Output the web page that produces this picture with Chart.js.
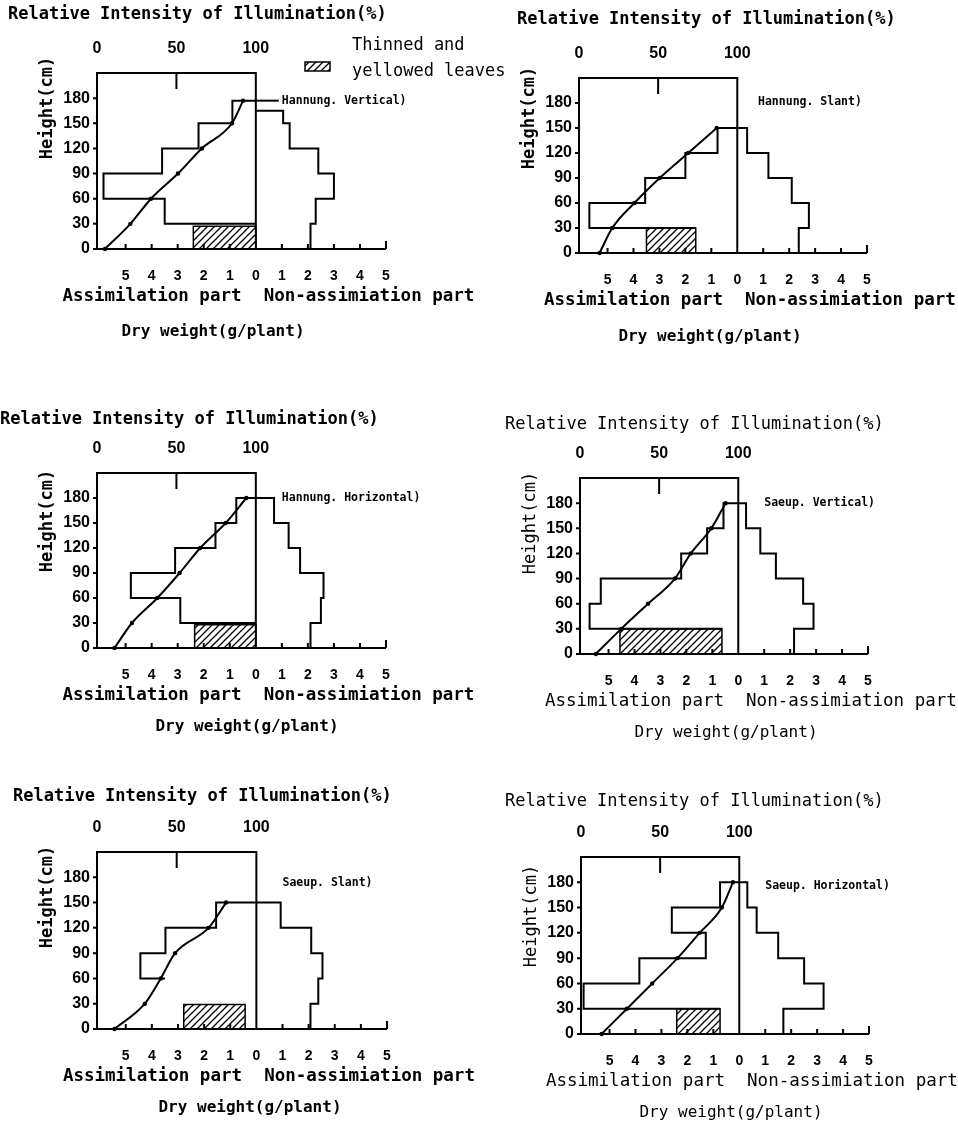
<!DOCTYPE html>
<html>
<head>
<meta charset="utf-8">
<script src="https://cdn.jsdelivr.net/npm/chart.js@4.4.1/dist/chart.umd.min.js"></script>
<style>
  body { margin: 0; background: #fff; width: 958px; height: 1125px; position: relative; overflow: hidden; }
  canvas { position: absolute; }
</style>
</head>
<body>
<script>
// ---- data ----
const heightTicks = [0, 30, 60, 90, 120, 150, 180];
const dryTicks = [-5, -4, -3, -2, -1, 0, 1, 2, 3, 4, 5];
const lightTicks = [0, 50, 100];
const layerBottoms = [0, 30, 60, 90, 120, 150];

const varieties = ['Hannung. Vertical)', 'Hannung. Slant)', 'Hannung. Horizontal)',
                   'Saeup. Vertical)', 'Saeup. Slant)', 'Saeup. Horizontal)'];

// dry weight of assimilation part per 30cm layer (0-30 ... 150-top), g/plant
const assimWt = [
  [0, 3.5, 5.85, 3.6, 2.2, 0.9],
  [0, 5.7, 3.55, 2.0, 0.76, 0],
  [0, 2.9, 4.8, 3.1, 1.55, 0.75],
  [0, 5.73, 5.3, 2.2, 1.2, 0.57],
  [0, 0, 4.44, 3.48, 1.54, 0],
  [0, 6.0, 3.85, 1.29, 2.6, 0.74]
];
const assimTop = [177, 150, 180, 180, 150, 180];
const assimCloseTo = [0, 1.6, 0, 0.63, 3.5, 0.74];

// dry weight of non-assimilation part per layer
const nonAssimWt = [
  [2.1, 2.3, 3.0, 2.4, 1.3, 1.05],
  [2.37, 2.76, 2.1, 1.2, 0.38, 0],
  [2.1, 2.5, 2.6, 1.7, 1.26, 0.7],
  [2.15, 2.9, 2.5, 1.45, 0.85, 0.3],
  [2.07, 2.37, 2.53, 2.1, 0.93, 0],
  [1.7, 3.25, 2.5, 1.5, 0.67, 0.31]
];
const nonAssimTop = [165, 150, 180, 180, 150, 180];

// thinned and yellowed leaves (0-30 layer)
const yellowFrom = [0, 1.6, 0, 0.63, 0.43, 0.74];
const yellowTo = [2.4, 3.5, 2.35, 4.56, 2.78, 2.41];
const yellowTop = [27, 30, 28, 30, 29, 30];

// relative intensity of illumination (%)
const lightH = [
  [0, 30, 60, 90, 120, 150, 177],
  [0, 30, 60, 90, 120, 150],
  [0, 30, 60, 90, 120, 150, 180],
  [0, 30, 60, 90, 120, 150, 180],
  [0, 30, 60, 90, 120, 150],
  [0, 30, 60, 90, 120, 150, 180]
];
const lightPct = [
  [5, 21, 34, 51, 66, 85, 92],
  [13, 21, 35, 51, 69, 87],
  [11, 22, 38, 52, 65, 81, 94],
  [10, 26, 43, 60, 70, 83, 92],
  [11, 30, 40, 49, 70, 81],
  [13, 29, 45, 61, 75, 89, 96]
];

// ---- layout ----
const XMIN = 6.1, XMAX = 5, YMAX = 210;
const LMAX = 100 * (XMIN + XMAX) / XMIN;   // 100% lands on 0 g
const panelBox = [[97, 73, 386, 249], [579, 78, 867, 253], [97, 473, 386, 648],
                  [580, 478, 868, 654], [97, 852, 387, 1029], [581, 857, 869, 1034]];
const canvasPos = [[0, 0, 540, 375], [479, 0, 479, 375], [0, 375, 540, 375],
                   [479, 375, 479, 375], [0, 750, 540, 375], [479, 750, 479, 375]];
const textWeight = ['bold', 'bold', 'bold', 'normal', 'bold', 'normal'];
const titleX = [8, 517, 0, 505, 13, 505];
const titleDy = [58, 58, 53, 53, 55, 55];
const yTitleY = [108, 118, 521, 523, 897, 916];
const dryX = [213, 710, 247, 726, 250, 731];
const dryDy = [83, 84, 79, 79, 79, 79];
const labelH = [177, 181, 180, 180, 173, 176];
const labelG = [1.0, 0.8, 1.0, 1.0, 1.0, 1.0];

function makeHatch() {
  const c = document.createElement('canvas');
  c.width = c.height = 7;
  const g = c.getContext('2d');
  g.strokeStyle = '#000'; g.lineWidth = 1.3;
  g.beginPath();
  g.moveTo(0, 7); g.lineTo(7, 0);
  g.moveTo(-1, 1); g.lineTo(1, -1);
  g.moveTo(6, 8); g.lineTo(8, 6);
  g.stroke();
  return g.createPattern(c, 'repeat');
}
const hatch = makeHatch();

function stepOutline(wts, top, closeTo, sign) {
  const idx = wts.map((w, i) => w > 0 ? i : -1).filter(i => i >= 0);
  const hi = idx[idx.length - 1], lo = idx[0];
  const pts = [{x: 0, y: top}];
  for (let i = hi; i >= lo; i--) {
    const t = i === hi ? top : layerBottoms[i + 1];
    pts.push({x: sign * wts[i], y: t}, {x: sign * wts[i], y: layerBottoms[i]});
  }
  pts.push({x: sign * closeTo, y: layerBottoms[lo]});
  return pts;
}

function framePlugin(i) {
  const ox = canvasPos[i][0], oy = canvasPos[i][1];
  const w = textWeight[i];
  return {
    id: 'frame' + i,
    afterDatasetsDraw(chart) {
      const {ctx} = chart, x = chart.scales.x, xl = chart.scales.xl, y = chart.scales.y;
      const L = x.getPixelForValue(-XMIN), Z = x.getPixelForValue(0), R = x.getPixelForValue(XMAX);
      const B = y.getPixelForValue(0), T = y.getPixelForValue(YMAX);
      ctx.save();
      ctx.strokeStyle = '#000'; ctx.fillStyle = '#000';
      ctx.lineWidth = 2; ctx.lineJoin = 'miter';
      ctx.beginPath();
      ctx.moveTo(L, B); ctx.lineTo(L, T); ctx.lineTo(Z, T); ctx.lineTo(Z, B);
      ctx.moveTo(L - 1, B); ctx.lineTo(R, B);
      dryTicks.forEach(v => {
        if (v === 0) return;
        const px = x.getPixelForValue(v);
        ctx.moveTo(px, B); ctx.lineTo(px, B - (v === XMAX ? 8 : 5));
      });
      heightTicks.forEach(h => {
        const py = y.getPixelForValue(h);
        ctx.moveTo(L, py); ctx.lineTo(L - 4, py);
      });
      const m = xl.getPixelForValue(50);
      ctx.moveTo(m, T); ctx.lineTo(m, T + 16);
      ctx.stroke();

      // tick labels
      ctx.textBaseline = 'middle';
      ctx.font = 'bold 16px "Liberation Sans"';
      ctx.textAlign = 'center';
      lightTicks.forEach(v => ctx.fillText(String(v), xl.getPixelForValue(v), T - 24));
      ctx.textAlign = 'right';
      heightTicks.forEach(h => ctx.fillText(String(h), L - 7, y.getPixelForValue(h)));
      ctx.font = 'bold 14px "Liberation Sans"';
      ctx.textAlign = 'center';
      dryTicks.forEach(v => ctx.fillText(String(Math.abs(v)), x.getPixelForValue(v), B + 27));

      // titles
      ctx.font = w + ' 17px "DejaVu Sans Mono"';
      ctx.textAlign = 'left';
      ctx.fillText('Relative Intensity of Illumination(%)', titleX[i] - ox, T - titleDy[i]);
      ctx.save();
      ctx.translate(L - 49, yTitleY[i] - oy);
      ctx.rotate(-Math.PI / 2);
      ctx.textAlign = 'center';
      ctx.fillText('Height(cm)', 0, 0);
      ctx.restore();

      ctx.font = w + ' 17.5px "DejaVu Sans Mono"';
      ctx.textAlign = 'right';
      ctx.fillText('Assimilation part', x.getPixelForValue(-0.55), B + 47);
      ctx.textAlign = 'left';
      ctx.fillText('Non-assimiation part', x.getPixelForValue(0.3), B + 47);
      ctx.font = w + ' 16px "DejaVu Sans Mono"';
      ctx.textAlign = 'center';
      ctx.fillText('Dry weight(g/plant)', dryX[i] - ox, B + dryDy[i]);

      // variety label
      ctx.font = 'bold 11.5px "DejaVu Sans Mono"';
      ctx.textAlign = 'left';
      const lx = x.getPixelForValue(labelG[i]), ly = y.getPixelForValue(labelH[i]);
      ctx.fillText(varieties[i], lx, ly);
      if (i === 0) {
        ctx.lineWidth = 2;
        ctx.beginPath(); ctx.moveTo(Z, ly); ctx.lineTo(lx - 3, ly); ctx.stroke();
        // legend
        ctx.fillStyle = hatch;
        ctx.fillRect(305, 62, 25, 9);
        ctx.lineWidth = 1.5;
        ctx.strokeRect(305, 62, 25, 9);
        ctx.fillStyle = '#000';
        ctx.font = '17px "DejaVu Sans Mono"';
        ctx.fillText('Thinned and', 352, 46);
        ctx.fillText('yellowed leaves', 352, 72);
      }
      ctx.restore();
    }
  };
}

const line = {showLine: true, borderColor: '#000', borderWidth: 2, pointRadius: 0,
              borderJoinStyle: 'miter', clip: false, fill: false};

for (let i = 0; i < 6; i++) {
  const [cx, cy, cw, ch] = canvasPos[i];
  const [px0, py0, px1, py1] = panelBox[i];
  const cv = document.createElement('canvas');
  cv.width = cw; cv.height = ch;
  cv.style.left = cx + 'px'; cv.style.top = cy + 'px';
  cv.style.width = cw + 'px'; cv.style.height = ch + 'px';
  document.body.appendChild(cv);

  const yellowBox = [
    {x: -yellowFrom[i], y: 0}, {x: -yellowFrom[i], y: yellowTop[i]},
    {x: -yellowTo[i], y: yellowTop[i]}, {x: -yellowTo[i], y: 0}, {x: -yellowFrom[i], y: 0}
  ];
  const light = lightH[i].map((h, k) => ({x: lightPct[i][k], y: h}));

  new Chart(cv, {
    type: 'scatter',
    data: {
      datasets: [
        Object.assign({data: stepOutline(assimWt[i], assimTop[i], assimCloseTo[i], -1)}, line),
        Object.assign({data: stepOutline(nonAssimWt[i], nonAssimTop[i], 0, 1)}, line),
        Object.assign({}, line, {data: yellowBox, borderWidth: 1.5, fill: 'shape', backgroundColor: hatch}),
        Object.assign({}, line, {data: light, xAxisID: 'xl', cubicInterpolationMode: 'monotone',
          pointRadius: 2.2, pointBackgroundColor: '#000', pointBorderWidth: 0})
      ]
    },
    options: {
      responsive: false,
      animation: false,
      events: [],
      layout: {padding: {left: px0 - cx, right: cx + cw - px1, top: py0 - cy, bottom: cy + ch - py1}},
      plugins: {legend: {display: false}, tooltip: {enabled: false}},
      scales: {
        x: {type: 'linear', min: -XMIN, max: XMAX, display: false},
        xl: {type: 'linear', axis: 'x', min: 0, max: LMAX, display: false},
        y: {type: 'linear', min: 0, max: YMAX, display: false}
      }
    },
    plugins: [framePlugin(i)]
  });
}
</script>
</body>
</html>
